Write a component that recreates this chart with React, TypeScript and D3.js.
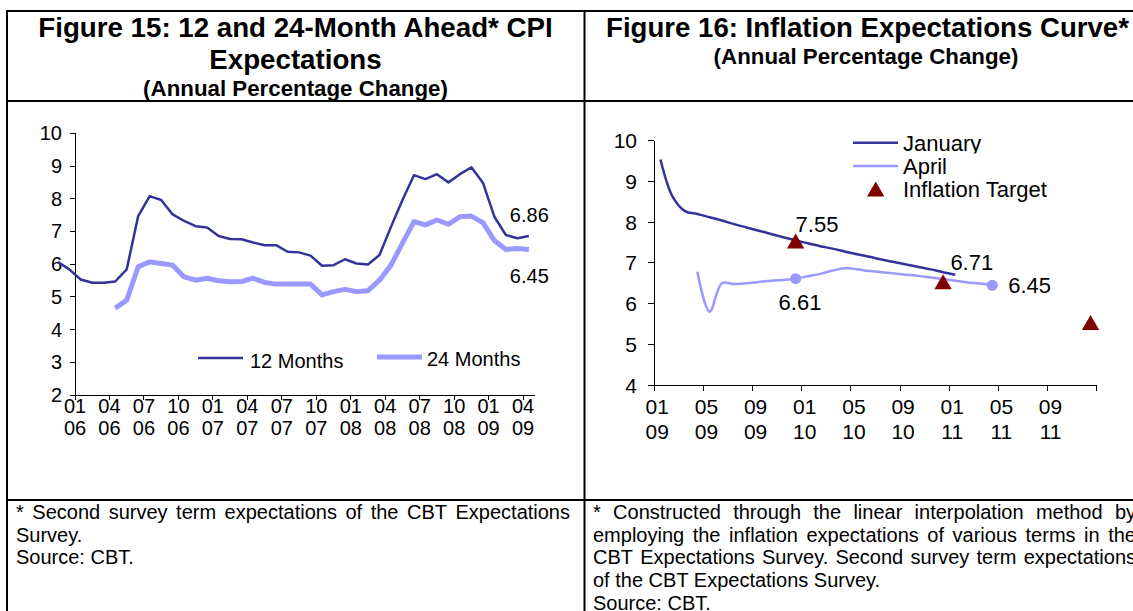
import React from "react";
import * as d3 from "d3";

// ---------- Figure 15 data (monthly, second survey term) ----------
// 12-month ahead expectations, Nov 2005 .. Apr 2009
const m12Start = -2; // month offset relative to Jan 2006
const m12Values = [
  6.07, 5.84, 5.53, 5.43, 5.43, 5.47, 5.84, 7.47, 8.08, 7.96, 7.52, 7.32, 7.16, 7.12,
  6.86, 6.77, 6.76, 6.66, 6.58, 6.58, 6.38, 6.36, 6.26, 5.95, 5.97, 6.15, 6.02, 5.99,
  6.28, 7.14, 7.96, 8.72, 8.6, 8.75, 8.5, 8.75, 8.96, 8.49, 7.45, 6.89, 6.79, 6.86,
];
// 24-month ahead expectations, Apr 2006 .. Apr 2009
const m24Start = 3;
const m24Values = [
  4.65, 4.9, 5.92, 6.07, 6.02, 5.97, 5.61, 5.51, 5.57, 5.49, 5.46, 5.47, 5.57, 5.44,
  5.39, 5.39, 5.39, 5.39, 5.06, 5.16, 5.23, 5.16, 5.19, 5.51, 5.97, 6.64, 7.3, 7.2,
  7.35, 7.22, 7.45, 7.47, 7.27, 6.72, 6.45, 6.48, 6.45,
];
const leftMonthCount = 40; // Jan 2006 .. Apr 2009
const leftTickLabels = [
  ["01", "06"], ["04", "06"], ["07", "06"], ["10", "06"], ["01", "07"], ["04", "07"], ["07", "07"],
  ["10", "07"], ["01", "08"], ["04", "08"], ["07", "08"], ["10", "08"], ["01", "09"], ["04", "09"],
];
const leftYTicks = [2, 3, 4, 5, 6, 7, 8, 9, 10];

// ---------- Figure 16 data (months from Jan 2009) ----------
const janStart = 0;
const janValues = [
  9.54, 8.62, 8.27, 8.2, 8.12, 8.04, 7.95, 7.87, 7.79, 7.71, 7.63, 7.55, 7.48, 7.41, 7.35,
  7.28, 7.21, 7.15, 7.08, 7.02, 6.96, 6.9, 6.84, 6.77, 6.71,
];
const aprStart = 3;
const aprValues = [
  6.78, 5.8, 6.5, 6.48, 6.5, 6.53, 6.56, 6.58, 6.61, 6.67, 6.73, 6.81, 6.87, 6.84, 6.8,
  6.77, 6.74, 6.71, 6.68, 6.64, 6.6, 6.56, 6.52, 6.49, 6.45,
];
const targetMonths = [11, 23, 35];
const targetValues = [7.5, 6.5, 5.5];
const rightMonthCount = 36; // Jan 2009 .. Dec 2011
const rightTickLabels = [
  ["01", "09"], ["05", "09"], ["09", "09"], ["01", "10"], ["05", "10"], ["09", "10"],
  ["01", "11"], ["05", "11"], ["09", "11"],
];
const rightYTicks = [4, 5, 6, 7, 8, 9, 10];

const leftFootLines = [
  "* Second survey term expectations of the CBT Expectations",
  "Survey.",
  "Source: CBT.",
];
const rightFootLines = [
  "* Constructed through the linear interpolation method by",
  "employing the inflation expectations of various terms in the",
  "CBT Expectations Survey. Second survey term expectations",
  "of the CBT Expectations Survey.",
  "Source: CBT.",
];

const NAVY = "#333399";
const LIGHT = "#9999FF";
const TARGET = "#800000";
const FONT = "'Liberation Sans', Arial, sans-serif";
const FOOT_SIZE = 20;

let measureCtx: CanvasRenderingContext2D | null = null;
function measure(s: string): number {
  if (!measureCtx) {
    const c = document.createElement("canvas");
    measureCtx = c.getContext("2d");
  }
  if (!measureCtx) return s.length * FOOT_SIZE * 0.5;
  measureCtx.font = `${FOOT_SIZE}px 'Liberation Sans', Arial, sans-serif`;
  return measureCtx.measureText(s).width;
}

// a footnote line; justified lines spread their words up to `right`
function FootLine({ text, x, y, right }: { text: string; x: number; y: number; right?: number }) {
  if (right === undefined) {
    return (
      <text x={x} y={y}>
        {text}
      </text>
    );
  }
  const words = text.split(" ");
  const widths = words.map(measure);
  const total = widths.reduce((a, b) => a + b, 0);
  const gap = (right - x - total) / Math.max(1, words.length - 1);
  let cx = x;
  return (
    <g>
      {words.map((w, i) => {
        const px = cx;
        cx += widths[i] + gap;
        return (
          <text key={i} x={px} y={y}>
            {w}
          </text>
        );
      })}
    </g>
  );
}

export default function App() {
  // Left chart scales
  const xL = d3.scaleLinear().domain([0, leftMonthCount]).range([75, 534.6]);
  const yL = d3.scaleLinear().domain([2, 10]).range([395, 133.3]);
  const lineL = d3
    .line<[number, number]>()
    .x((d) => xL(d[0] + 0.5))
    .y((d) => yL(d[1]));
  const m12Pts: [number, number][] = m12Values.map((v, i) => [m12Start + i, v]);
  const m24Pts: [number, number][] = m24Values.map((v, i) => [m24Start + i, v]);

  // Right chart scales
  const xR = d3.scaleLinear().domain([0, rightMonthCount]).range([654.3, 1096.7]);
  const yR = d3.scaleLinear().domain([4, 10]).range([385, 140.7]);
  const lineR = d3
    .line<[number, number]>()
    .x((d) => xR(d[0] + 0.5))
    .y((d) => yR(d[1]))
    .curve(d3.curveCatmullRom.alpha(0.5));
  const janPts: [number, number][] = janValues.map((v, i) => [janStart + i, v]);
  const aprPts: [number, number][] = aprValues.map((v, i) => [aprStart + i, v]);

  const tri = d3.symbol().type(d3.symbolTriangle).size(130)() as string;

  const janLast = janPts[janPts.length - 1];
  const aprLast = aprPts[aprPts.length - 1];
  const aprMid = aprPts[11 - aprStart];
  const janMid = janPts[11 - janStart];
  const m12Last = m12Pts[m12Pts.length - 1];
  const m24Last = m24Pts[m24Pts.length - 1];

  return (
    <svg
      width={1133}
      height={611}
      style={{ position: "absolute", left: 0, top: 0, background: "#fff" }}
      fontFamily={FONT}
    >
      <rect x={0} y={0} width={1133} height={611} fill="#fff" />
      <defs>
        <clipPath id="janClip">
          <rect x={890} y={120} width={200} height={33.5} />
        </clipPath>
      </defs>

      {/* table borders */}
      <g stroke="#000" strokeWidth={2}>
        <line x1={6} y1={11} x2={1133} y2={11} />
        <line x1={7} y1={10} x2={7} y2={611} />
        <line x1={584.5} y1={10} x2={584.5} y2={611} />
        <line x1={6} y1={101} x2={1133} y2={101} />
        <line x1={6} y1={500} x2={1133} y2={500} />
      </g>

      {/* titles */}
      <g fontWeight="bold" textAnchor="middle" fill="#000">
        <text x={295.5} y={37} fontSize={27.7}>Figure 15: 12 and 24-Month Ahead* CPI</text>
        <text x={295.5} y={69} fontSize={27.7}>Expectations</text>
        <text x={295.5} y={96} fontSize={22.3}>(Annual Percentage Change)</text>
        <text x={867.5} y={37} fontSize={27.6}>Figure 16: Inflation Expectations Curve*</text>
        <text x={866} y={64} fontSize={22.3}>(Annual Percentage Change)</text>
      </g>

      {/* ---------- left chart ---------- */}
      <g stroke="#000" strokeWidth={1} shapeRendering="crispEdges">
        <line x1={xL(0)} y1={yL(2)} x2={xL(0)} y2={yL(10)} />
        <line x1={xL(0)} y1={yL(2)} x2={xL(leftMonthCount)} y2={yL(2)} />
        {leftYTicks.map((t) => (
          <line key={t} x1={xL(0) - 5} x2={xL(0)} y1={yL(t)} y2={yL(t)} />
        ))}
        {leftTickLabels.map((_, i) => (
          <line key={i} x1={xL(i * 3)} x2={xL(i * 3)} y1={yL(2)} y2={yL(2) + 5} />
        ))}
      </g>
      <g fontSize={20} fill="#000">
        {leftYTicks.map((t) => (
          <text key={t} x={62} y={yL(t) + 7} textAnchor="end">{t}</text>
        ))}
        {leftTickLabels.map((l, i) => (
          <g key={i}>
            <text x={xL(i * 3)} y={413} textAnchor="middle">{l[0]}</text>
            <text x={xL(i * 3)} y={435} textAnchor="middle">{l[1]}</text>
          </g>
        ))}
      </g>
      <path d={lineL(m24Pts) as string} fill="none" stroke={LIGHT} strokeWidth={5} strokeLinejoin="round" />
      <path d={lineL(m12Pts) as string} fill="none" stroke={NAVY} strokeWidth={2.5} strokeLinejoin="round" />
      <g fontSize={20} fill="#000">
        <text x={xL(m12Last[0] + 0.5) - 19} y={yL(m12Last[1]) - 14}>6.86</text>
        <text x={xL(m24Last[0] + 0.5) - 19} y={yL(m24Last[1]) + 34}>6.45</text>
      </g>
      {/* left legend */}
      <line x1={198} x2={243} y1={358} y2={358} stroke={NAVY} strokeWidth={2.5} />
      <text x={250} y={368} fontSize={20}>12 Months</text>
      <line x1={377} x2={422} y1={357} y2={357} stroke={LIGHT} strokeWidth={5} />
      <text x={427} y={366} fontSize={20}>24 Months</text>

      {/* ---------- right chart ---------- */}
      <g stroke="#000" strokeWidth={1} shapeRendering="crispEdges">
        <line x1={xR(0)} y1={yR(4)} x2={xR(0)} y2={yR(10)} />
        <line x1={xR(0)} y1={yR(4)} x2={xR(rightMonthCount)} y2={yR(4)} />
        {rightYTicks.map((t) => (
          <line key={t} x1={xR(0) - 6} x2={xR(0)} y1={yR(t)} y2={yR(t)} />
        ))}
        {d3.range(0, rightMonthCount + 1, 4).map((m) => (
          <line key={m} x1={xR(m)} x2={xR(m)} y1={yR(4)} y2={yR(4) + 6} />
        ))}
      </g>
      <g fontSize={21} fill="#000">
        {rightYTicks.map((t) => (
          <text key={t} x={637} y={yR(t) + 7.5} textAnchor="end">{t}</text>
        ))}
        {rightTickLabels.map((l, i) => (
          <g key={i}>
            <text x={xR(i * 4) + 3} y={414} textAnchor="middle">{l[0]}</text>
            <text x={xR(i * 4) + 3} y={439} textAnchor="middle">{l[1]}</text>
          </g>
        ))}
      </g>
      <path d={lineR(aprPts) as string} fill="none" stroke={LIGHT} strokeWidth={2.5} />
      <path d={lineR(janPts) as string} fill="none" stroke={NAVY} strokeWidth={2.5} />
      {targetMonths.map((m, i) => (
        <path
          key={m}
          d={tri}
          transform={`translate(${xR(m + 0.5)},${yR(targetValues[i]) + 1})`}
          fill={TARGET}
        />
      ))}
      <circle cx={xR(aprMid[0] + 0.5)} cy={yR(aprMid[1])} r={5.5} fill={LIGHT} />
      <circle cx={xR(aprLast[0] + 0.5)} cy={yR(aprLast[1])} r={5.5} fill={LIGHT} />
      <g fontSize={22} fill="#000">
        <text x={xR(janMid[0] + 0.5)} y={yR(janMid[1]) - 8}>7.55</text>
        <text x={xR(aprMid[0] + 0.5) - 17} y={yR(aprMid[1]) + 31}>6.61</text>
        <text x={xR(janLast[0] + 0.5) - 5} y={yR(janLast[1]) - 5}>6.71</text>
        <text x={xR(aprLast[0] + 0.5) + 16} y={yR(aprLast[1]) + 8}>6.45</text>
      </g>
      {/* right legend */}
      <line x1={853} x2={898} y1={142.7} y2={142.7} stroke={NAVY} strokeWidth={2.5} />
      <text x={903} y={151} fontSize={22} clipPath="url(#janClip)">January</text>
      <line x1={853} x2={898} y1={166} y2={166} stroke={LIGHT} strokeWidth={2.5} />
      <text x={903} y={174} fontSize={22}>April</text>
      <path d={tri} transform="translate(875.7,191.5)" fill={TARGET} />
      <text x={903} y={197} fontSize={22}>Inflation Target</text>

      {/* footnotes */}
      <g fontSize={FOOT_SIZE} fill="#000">
        {leftFootLines.map((t, i) => (
          <FootLine key={i} text={t} x={16} y={519 + i * 22.5} right={i === 0 ? 570 : undefined} />
        ))}
        {rightFootLines.map((t, i) => (
          <FootLine key={i} text={t} x={593} y={519 + i * 22.7} right={i < 3 ? 1136 : undefined} />
        ))}
      </g>
    </svg>
  );
}
